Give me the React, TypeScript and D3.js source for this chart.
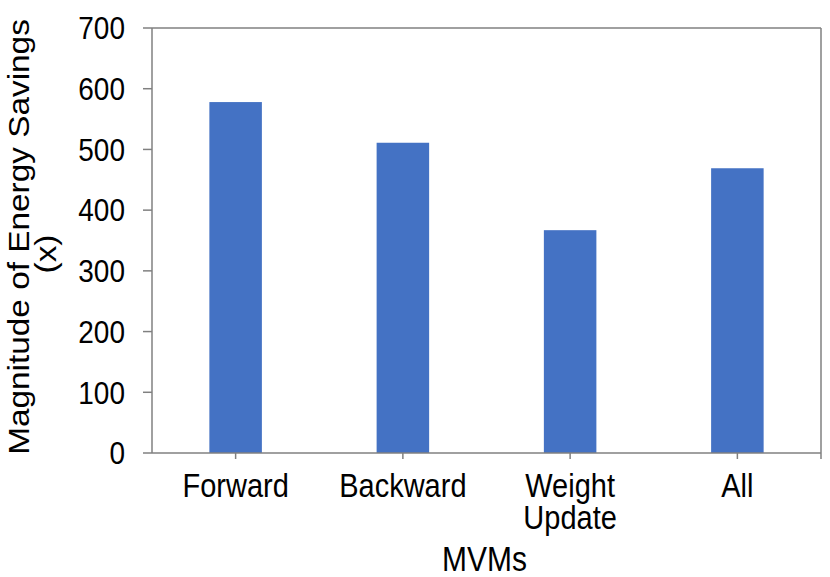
import React from "react";
import * as d3 from "d3";

const categories: string[][] = [["Forward"], ["Backward"], ["Weight", "Update"], ["All"]];
const categoryKeys: string[] = ["Forward", "Backward", "Weight Update", "All"];
const savings: number[] = [578, 511, 367, 469];
const yTicks: number[] = [0, 100, 200, 300, 400, 500, 600, 700];
const yTitleLines: string[] = ["Magnitude of Energy Savings", "(x)"];
const xTitle = "MVMs";

const W = 830;
const H = 577;
const margin = { left: 152, right: 9, top: 28, bottom: 124 };
const FONT = "'Liberation Sans', Arial, sans-serif";
const AXIS = "#808080";
const SY = 1.15; // vertical stretch of the lettering

export default function App() {
  const x = d3
    .scaleBand<string>()
    .domain(categoryKeys)
    .range([margin.left, W - margin.right])
    .paddingInner(0.686)
    .paddingOuter(0.343);
  const y = d3.scaleLinear().domain([0, 700]).range([H - margin.bottom, margin.top]);
  const x0 = margin.left;
  const x1 = W - margin.right;
  const y0 = y(0);
  const yTop = y(700);

  return (
    <svg
      width={W}
      height={H}
      style={{ position: "absolute", left: 0, top: 0, background: "#fff" }}
      fontFamily={FONT}
    >
      {/* bars */}
      {categoryKeys.map((k, i) => (
        <rect
          key={k}
          x={x(k)}
          y={y(savings[i])}
          width={x.bandwidth()}
          height={y0 - y(savings[i])}
          fill="#4472C4"
        />
      ))}
      {/* frame */}
      <line x1={x0} x2={x1} y1={yTop} y2={yTop} stroke={AXIS} strokeWidth={1.5} />
      <line x1={x1} x2={x1} y1={yTop} y2={y0 + 6} stroke={AXIS} strokeWidth={1.5} />
      <line x1={x0} x2={x0} y1={yTop} y2={y0} stroke={AXIS} strokeWidth={1.5} />
      <line x1={x0} x2={x1} y1={y0} y2={y0} stroke={AXIS} strokeWidth={1.5} />
      {/* y ticks */}
      {yTicks.map((t) => (
        <g key={t}>
          <line x1={x0 - 9} x2={x0} y1={y(t)} y2={y(t)} stroke={AXIS} strokeWidth={1.5} />
          <text
            transform={`translate(${x0 - 27},${y(t)}) scale(1,${SY})`}
            dy="0.35em"
            textAnchor="end"
            fontSize={28}
            fill="#000"
          >
            {t}
          </text>
        </g>
      ))}
      {/* x ticks & labels */}
      {categoryKeys.map((k, i) => {
        const cx = (x(k) as number) + x.bandwidth() / 2;
        return (
          <g key={k}>
            <line x1={cx} x2={cx} y1={y0} y2={y0 + 6} stroke={AXIS} strokeWidth={1.5} />
            <text
              transform={`translate(${cx},${y0 + 44}) scale(1,${SY})`}
              textAnchor="middle"
              fontSize={29}
              fill="#000"
            >
              {categories[i].map((line, j) => (
                <tspan key={j} x={0} dy={j === 0 ? 0 : 28}>
                  {line}
                </tspan>
              ))}
            </text>
          </g>
        );
      })}
      {/* axis titles */}
      <text
        transform={`translate(${(x0 + x1) / 2 - 2},571) scale(1,${SY})`}
        textAnchor="middle"
        fontSize={30}
        fill="#000"
      >
        {xTitle}
      </text>
      {yTitleLines.map((line, i) => (
        <text
          key={i}
          transform={`translate(${29 + i * 27},${237 + i * 17}) rotate(-90) scale(${SY},1)`}
          textAnchor="middle"
          fontSize={29}
          fill="#000"
        >
          {line}
        </text>
      ))}
    </svg>
  );
}
